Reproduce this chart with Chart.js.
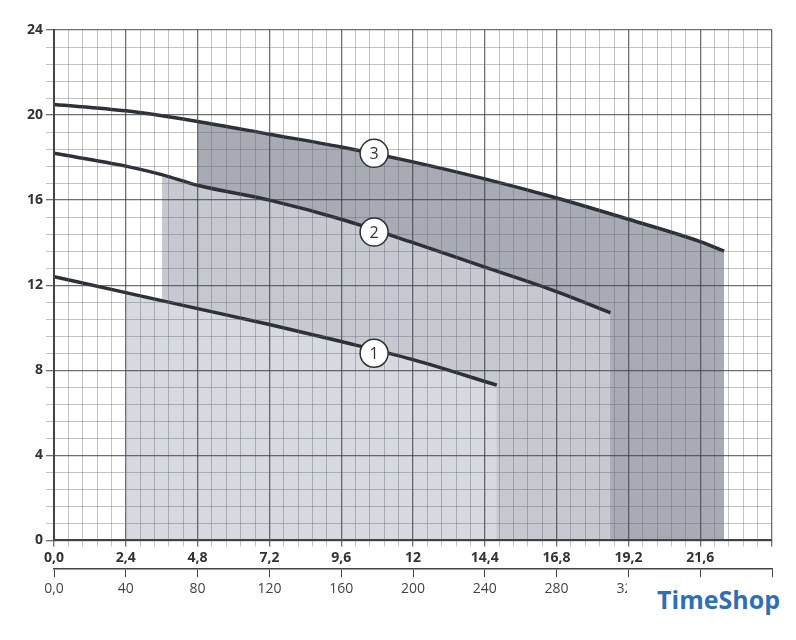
<!DOCTYPE html>
<html>
<head>
<meta charset="utf-8">
<script src="https://cdn.jsdelivr.net/npm/chart.js@4/dist/chart.umd.min.js"></script>
<style>
  body { margin: 0; background: #fff; }
  #wrap { position: relative; width: 796px; height: 640px; }
  #logo { position: absolute; right: 10px; bottom: 22px; font: bold 25px "Open Sans", sans-serif; color: #2f6fb3; background: #fff; padding: 2px 6px 2px 30px; }
</style>
</head>
<body>
<div id="wrap">
  <canvas id="c" width="796" height="640"></canvas>
  <div id="logo">TimeShop</div>
</div>
<script>
// curve readings (flow, head)
const curve1X = [0, 2.4, 4.8, 7.2, 9.6, 12, 14.8];
const curve1Y = [12.4, 11.65, 10.9, 10.15, 9.35, 8.5, 7.3];
const curve2X = [0, 2.4, 3.6, 4.8, 7.2, 9.6, 12, 14.4, 16.8, 18.6];
const curve2Y = [18.2, 17.6, 17.2, 16.7, 16.0, 15.1, 14.0, 12.85, 11.7, 10.7];
const curve3X = [0, 2.4, 4.8, 7.2, 9.6, 12, 14.4, 16.8, 19.2, 21.6, 22.4];
const curve3Y = [20.5, 20.2, 19.7, 19.1, 18.5, 17.8, 17.0, 16.1, 15.1, 14.05, 13.6];
// working ranges (from x)
const range1From = 2.4, range2From = 3.6, range3From = 4.8;
const labelNames = ['1', '2', '3'];
const labelX = [10.7, 10.7, 10.7];
const labelY = [8.8, 14.5, 18.2];

const pts = (xs, ys, from) => xs.map((x, i) => ({ x, y: ys[i] })).filter(p => p.x >= from);

const ink = '#2b3136';
const lineDs = (xs, ys) => ({ data: pts(xs, ys, 0), borderColor: ink, borderWidth: 3.5, pointRadius: 0, cubicInterpolationMode: 'monotone', fill: false, order: 1 });
const areaDs = (xs, ys, from, col, ord) => ({ data: pts(xs, ys, from), borderWidth: 0, pointRadius: 0, cubicInterpolationMode: 'monotone', fill: 'origin', backgroundColor: col, order: ord });

const labelPlugin = {
  id: 'curveLabels',
  afterDraw(chart) {
    const { ctx, scales: { x, y } } = chart;
    ctx.save();
    labelNames.forEach((t, i) => {
      const px = x.getPixelForValue(labelX[i]), py = y.getPixelForValue(labelY[i]);
      ctx.beginPath();
      ctx.arc(px, py, 14, 0, Math.PI * 2);
      ctx.fillStyle = '#fff'; ctx.fill();
      ctx.lineWidth = 1.5; ctx.strokeStyle = ink; ctx.stroke();
      ctx.fillStyle = ink;
      ctx.font = '16px "Open Sans", sans-serif';
      ctx.textAlign = 'center'; ctx.textBaseline = 'middle';
      ctx.fillText(t, px, py + 1);
    });
    ctx.restore();
  }
};

const majorX = v => Math.round(v / 0.48) % 5 === 0;
const majorY = v => Math.round(v / 0.8) % 5 === 0;

new Chart(document.getElementById('c'), {
  type: 'line',
  data: {
    datasets: [
      areaDs(curve3X, curve3Y, range3From, '#a8abb3', 6),
      areaDs(curve2X, curve2Y, range2From, '#c6c9d0', 5),
      areaDs(curve1X, curve1Y, range1From, '#d6d9df', 4),
      lineDs(curve1X, curve1Y),
      lineDs(curve2X, curve2Y),
      lineDs(curve3X, curve3Y)
    ]
  },
  options: {
    responsive: false,
    animation: false,
    layout: { padding: { top: 30, right: 24, bottom: 40, left: 24 } },
    plugins: { legend: { display: false }, tooltip: { enabled: false } },
    scales: {
      x: {
        type: 'linear', min: 0, max: 24, position: 'bottom',
        ticks: {
          stepSize: 0.48, autoSkip: false, maxRotation: 0,
          color: '#333', font: { family: '"Open Sans", sans-serif', size: 14, weight: 'bold' },
          callback: v => {
            const k = Math.round(v / 0.48);
            if (k % 5 !== 0 || v > 23) return '';
            const n = Math.round(k * 0.48 * 10) / 10;
            return Number.isInteger(n) && n !== 0 ? String(n) : n.toFixed(1).replace('.', ',');
          }
        },
        grid: {
          z: 1,
          color: ctx => (majorX(ctx.tick.value) ? 'rgba(60,65,72,0.75)' : 'rgba(100,105,112,0.5)'),
          lineWidth: ctx => (majorX(ctx.tick.value) ? 1.3 : 0.8),
          tickLength: 6
        },
        border: { color: '#444', width: 2, z: 1 }
      },
      x2: {
        type: 'linear', min: 0, max: 400, position: 'bottom',
        ticks: {
          stepSize: 40, maxRotation: 0, color: '#444',
          font: { family: '"Open Sans", sans-serif', size: 14 },
          callback: v => (v === 0 ? '0,0' : v < 400 ? String(v) : '')
        },
        grid: { drawOnChartArea: false, color: '#444', tickLength: 8 },
        border: { color: '#444', width: 1.5 }
      },
      y: {
        type: 'linear', min: 0, max: 24,
        ticks: {
          stepSize: 0.8, autoSkip: false,
          color: '#333', font: { family: '"Open Sans", sans-serif', size: 14, weight: 'bold' },
          callback: v => (majorY(v) ? String(Math.round(v)) : '')
        },
        grid: {
          z: 1,
          color: ctx => (majorY(ctx.tick.value) ? 'rgba(60,65,72,0.75)' : 'rgba(100,105,112,0.5)'),
          lineWidth: ctx => (majorY(ctx.tick.value) ? 1.3 : 0.8),
          tickLength: 8
        },
        border: { color: '#444', width: 2, z: 1 }
      }
    }
  },
  plugins: [labelPlugin]
});
</script>
</body>
</html>
